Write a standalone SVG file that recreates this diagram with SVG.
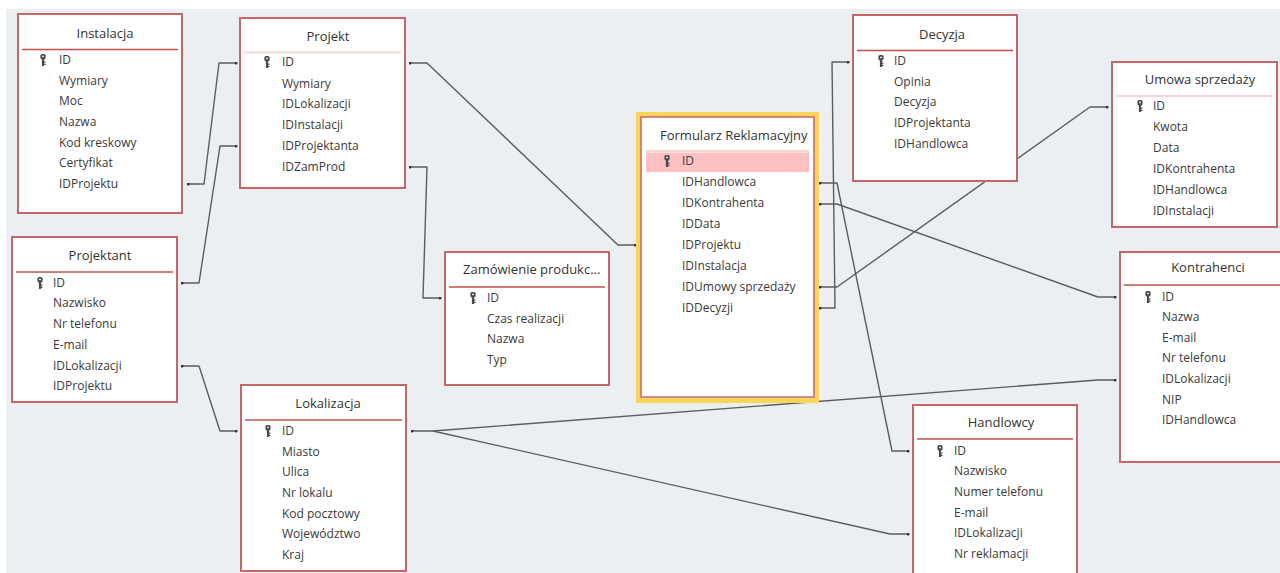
<svg xmlns="http://www.w3.org/2000/svg" width="1280" height="573" viewBox="0 0 1280 573">
  <style>
    .tbl { fill: #ffffff; stroke: #c4676b; stroke-width: 2; }
    .sep { stroke: #c0504d; stroke-width: 1.5; }
    .sep-pale { stroke: #f4d8d8; stroke-width: 2; }
    .title { font-family: "Open Sans", "Noto Sans", sans-serif; font-size: 13px; fill: #333333; }
    .fld { font-family: "Open Sans", "Noto Sans", sans-serif; font-size: 12px; fill: #3a3a3a; }
    .mid { text-anchor: middle; }
    .link { fill: none; stroke: #5c5c5c; stroke-width: 1.4; stroke-linejoin: round; }
  </style>
  <defs>
    <marker id="dot" viewBox="-3 -3 6 6" markerWidth="3" markerHeight="3" refX="0" refY="0" markerUnits="userSpaceOnUse">
      <circle cx="0" cy="0" r="3" fill="#333333"/>
    </marker>
    <!-- primary key glyph -->
    <g id="key" fill="#4a4a4a">
      <rect x="-2.6" y="-6" width="5.2" height="5.4" rx="1.6"/>
      <rect x="-1.1" y="-1" width="2.2" height="7"/>
      <rect x="1" y="1.6" width="1.5" height="1.2"/>
      <rect x="1" y="3.8" width="1.5" height="1.2"/>
      <circle cx="0" cy="-3.6" r="0.9" fill="#ffffff"/>
    </g>
  </defs>

  <!-- canvas -->
  <rect x="0" y="0" width="1280" height="573" fill="#ffffff"/>
  <rect x="6" y="9" width="1274" height="564" fill="#eceff2"/>

  <!-- relationships -->
  <g id="connectors">
    <polyline class="link" points="188,184 204,184 219,63 236,63" marker-start="url(#dot)" marker-end="url(#dot)"/>
    <polyline class="link" points="182,283 199,283 220,146 236,146" marker-start="url(#dot)" marker-end="url(#dot)"/>
    <polyline class="link" points="182,366 199,366 220,431 236,431" marker-start="url(#dot)" marker-end="url(#dot)"/>
    <polyline class="link" points="410,63 427,63 618,245 635,245" marker-start="url(#dot)" marker-end="url(#dot)"/>
    <polyline class="link" points="410,167 427,167 423,298 440,298" marker-start="url(#dot)" marker-end="url(#dot)"/>
    <polyline class="link" points="820,308 835,308 832,62 848,62" marker-start="url(#dot)" marker-end="url(#dot)"/>
    <polyline class="link" points="820,287 837,287 1090,107 1107,107" marker-start="url(#dot)" marker-end="url(#dot)"/>
    <polyline class="link" points="820,183 837,183 892,451 908,451" marker-start="url(#dot)" marker-end="url(#dot)"/>
    <polyline class="link" points="820,204 837,204 1098,297 1115,297" marker-start="url(#dot)" marker-end="url(#dot)"/>
    <polyline class="link" points="412,431 433,431 1098,380 1115,380" marker-start="url(#dot)" marker-end="url(#dot)"/>
    <polyline class="link" points="433,431 890,534 908,534" marker-end="url(#dot)"/>
  </g>

  <g id="instalacja">
    <rect class="tbl" x="18" y="14" width="164" height="199"/>
    <line class="sep" x1="22" y1="49.5" x2="178" y2="49.5"/>
    <text class="title mid" x="105" y="38">Instalacja</text>
    <use href="#key" x="43" y="60"/>
    <text class="fld" x="59" y="64">ID</text>
    <text class="fld" x="59" y="85">Wymiary</text>
    <text class="fld" x="59" y="105">Moc</text>
    <text class="fld" x="59" y="126">Nazwa</text>
    <text class="fld" x="59" y="147">Kod kreskowy</text>
    <text class="fld" x="59" y="167">Certyfikat</text>
    <text class="fld" x="59" y="188">IDProjektu</text>
  </g>

  <g id="projekt">
    <rect class="tbl" x="240" y="18" width="165" height="170"/>
    <line class="sep-pale" x1="244" y1="52.5" x2="401" y2="52.5"/>
    <text class="title mid" x="328" y="41">Projekt</text>
    <use href="#key" x="267" y="62"/>
    <text class="fld" x="282" y="66">ID</text>
    <text class="fld" x="282" y="88">Wymiary</text>
    <text class="fld" x="282" y="108">IDLokalizacji</text>
    <text class="fld" x="282" y="129">IDInstalacji</text>
    <text class="fld" x="282" y="150">IDProjektanta</text>
    <text class="fld" x="282" y="171">IDZamProd</text>
  </g>

  <g id="projektant">
    <rect class="tbl" x="12" y="237" width="165" height="165"/>
    <line class="sep" x1="16" y1="272" x2="173" y2="272"/>
    <text class="title mid" x="100" y="260">Projektant</text>
    <use href="#key" x="40" y="283"/>
    <text class="fld" x="53" y="287">ID</text>
    <text class="fld" x="53" y="307">Nazwisko</text>
    <text class="fld" x="53" y="328">Nr telefonu</text>
    <text class="fld" x="53" y="349">E-mail</text>
    <text class="fld" x="53" y="370">IDLokalizacji</text>
    <text class="fld" x="53" y="390">IDProjektu</text>
  </g>

  <g id="lokalizacja">
    <rect class="tbl" x="241" y="385" width="165" height="186"/>
    <line class="sep" x1="245" y1="420" x2="402" y2="420"/>
    <text class="title mid" x="328" y="408">Lokalizacja</text>
    <use href="#key" x="268" y="431"/>
    <text class="fld" x="282" y="435">ID</text>
    <text class="fld" x="282" y="456">Miasto</text>
    <text class="fld" x="282" y="476">Ulica</text>
    <text class="fld" x="282" y="497">Nr lokalu</text>
    <text class="fld" x="282" y="518">Kod pocztowy</text>
    <text class="fld" x="282" y="538">Województwo</text>
    <text class="fld" x="282" y="559">Kraj</text>
  </g>

  <g id="zamowienie">
    <rect class="tbl" x="445" y="252" width="164" height="133"/>
    <line class="sep" x1="449" y1="287" x2="605" y2="287"/>
    <text class="title" x="463" y="274">Zamówienie produkc...</text>
    <use href="#key" x="473" y="298"/>
    <text class="fld" x="487" y="302">ID</text>
    <text class="fld" x="487" y="323">Czas realizacji</text>
    <text class="fld" x="487" y="343">Nazwa</text>
    <text class="fld" x="487" y="364">Typ</text>
  </g>

  <g id="formularz">
    <rect x="638.5" y="114.5" width="178" height="286" fill="none" stroke="#fbd45a" stroke-width="5"/>
    <rect x="641" y="117" width="173" height="280" fill="#ffffff" stroke="#c4676b" stroke-width="1.5"/>
    <line class="sep-pale" x1="646" y1="151" x2="809" y2="151"/>
    <rect x="646" y="152.5" width="163" height="19.5" fill="#fdc1c4"/>
    <text class="title" x="660" y="140">Formularz Reklamacyjny</text>
    <use href="#key" x="667" y="161"/>
    <text class="fld" x="682" y="165">ID</text>
    <text class="fld" x="682" y="186">IDHandlowca</text>
    <text class="fld" x="682" y="207">IDKontrahenta</text>
    <text class="fld" x="682" y="228">IDData</text>
    <text class="fld" x="682" y="249">IDProjektu</text>
    <text class="fld" x="682" y="270">IDInstalacja</text>
    <text class="fld" x="682" y="291">IDUmowy sprzedaży</text>
    <text class="fld" x="682" y="312">IDDecyzji</text>
  </g>

  <g id="decyzja">
    <rect class="tbl" x="853" y="15" width="164" height="166"/>
    <line class="sep" x1="857" y1="50.5" x2="1013" y2="50.5"/>
    <text class="title mid" x="942" y="39">Decyzja</text>
    <use href="#key" x="881" y="61"/>
    <text class="fld" x="894" y="65">ID</text>
    <text class="fld" x="894" y="86">Opinia</text>
    <text class="fld" x="894" y="106">Decyzja</text>
    <text class="fld" x="894" y="127">IDProjektanta</text>
    <text class="fld" x="894" y="148">IDHandlowca</text>
  </g>

  <g id="umowa-sprzedazy">
    <rect class="tbl" x="1112" y="62" width="165" height="165"/>
    <line class="sep-pale" x1="1116" y1="96" x2="1273" y2="96"/>
    <text class="title mid" x="1200" y="84">Umowa sprzedaży</text>
    <use href="#key" x="1140" y="106"/>
    <text class="fld" x="1153" y="110">ID</text>
    <text class="fld" x="1153" y="131">Kwota</text>
    <text class="fld" x="1153" y="152">Data</text>
    <text class="fld" x="1153" y="173">IDKontrahenta</text>
    <text class="fld" x="1153" y="194">IDHandlowca</text>
    <text class="fld" x="1153" y="215">IDInstalacji</text>
  </g>

  <g id="kontrahenci">
    <rect class="tbl" x="1120" y="252" width="175" height="210"/>
    <line class="sep" x1="1124" y1="285" x2="1280" y2="285"/>
    <text class="title mid" x="1208" y="272">Kontrahenci</text>
    <use href="#key" x="1148" y="297"/>
    <text class="fld" x="1162" y="301">ID</text>
    <text class="fld" x="1162" y="321">Nazwa</text>
    <text class="fld" x="1162" y="342">E-mail</text>
    <text class="fld" x="1162" y="362">Nr telefonu</text>
    <text class="fld" x="1162" y="383">IDLokalizacji</text>
    <text class="fld" x="1162" y="404">NIP</text>
    <text class="fld" x="1162" y="424">IDHandlowca</text>
  </g>

  <g id="handlowcy">
    <rect class="tbl" x="913" y="405" width="164" height="180"/>
    <line class="sep" x1="917" y1="439" x2="1073" y2="439"/>
    <text class="title mid" x="1001" y="427">Handlowcy</text>
    <use href="#key" x="940" y="451"/>
    <text class="fld" x="954" y="455">ID</text>
    <text class="fld" x="954" y="475">Nazwisko</text>
    <text class="fld" x="954" y="496">Numer telefonu</text>
    <text class="fld" x="954" y="517">E-mail</text>
    <text class="fld" x="954" y="537">IDLokalizacji</text>
    <text class="fld" x="954" y="558">Nr reklamacji</text>
  </g>
</svg>
